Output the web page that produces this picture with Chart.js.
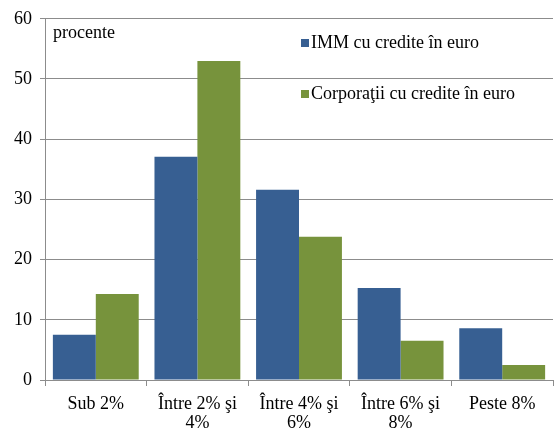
<!DOCTYPE html>
<html>
<head>
<meta charset="utf-8">
<script src="https://cdn.jsdelivr.net/npm/chart.js@4"></script>
<style>
  html, body { margin: 0; padding: 0; background: #fff; }
  #wrap { width: 554px; height: 430px; }
</style>
</head>
<body>
<div id="wrap"><canvas id="chart" width="554" height="430"></canvas></div>
<script>
const categories = ['Sub 2%', ['Între 2% şi', '4%'], ['Între 4% şi', '6%'], ['Între 6% şi', '8%'], 'Peste 8%'];
const immValues = [7.5, 37.1, 31.6, 15.3, 8.6];
const corpValues = [14.3, 53.0, 23.8, 6.5, 2.5];
const seriesNames = ['IMM cu credite în euro', 'Corporaţii cu credite în euro'];
const yTicks = [0, 10, 20, 30, 40, 50, 60];

const FONT = "'Liberation Serif', Tinos, 'Times New Roman', 'DejaVu Serif', serif";
const gridColor = '#8c8c8c';

// legend + "procente" label drawn inside the plot
const overlay = {
    id: 'overlay',
    afterDraw(chart) {
        const ctx = chart.ctx;
        ctx.save();
        ctx.font = '18px ' + FONT;
        ctx.fillStyle = '#000';
        ctx.textBaseline = 'middle';
        ctx.textAlign = 'left';
        ctx.fillText('procente', 53, 33);
        const rows = [43, 94];
        chart.data.datasets.forEach((ds, i) => {
            ctx.fillStyle = ds.backgroundColor;
            ctx.fillRect(301, rows[i] - 4, 8, 8);
            ctx.fillStyle = '#000';
            ctx.fillText(ds.label, 311, rows[i]);
        });
        ctx.restore();
    }
};

new Chart(document.getElementById('chart').getContext('2d'), {
    type: 'bar',
    data: {
        labels: categories,
        datasets: [{
            label: seriesNames[0],
            data: immValues,
            backgroundColor: '#375F92',
            borderWidth: 0
        }, {
            label: seriesNames[1],
            data: corpValues,
            backgroundColor: '#77933C',
            borderWidth: 0
        }]
    },
    options: {
        responsive: false,
        animation: false,
        datasets: { bar: { categoryPercentage: 0.845, barPercentage: 1.0 } },
        layout: { padding: { top: 18, right: 1, left: 0, bottom: 0 } },
        plugins: { legend: { display: false }, tooltip: { enabled: false } },
        scales: {
            x: {
                grid: { drawOnChartArea: false, drawTicks: true, tickLength: 6, color: gridColor, offset: true },
                border: { color: gridColor },
                ticks: { font: { family: FONT, size: 18, lineHeight: 1.1 }, color: '#000', padding: 8, maxRotation: 0, autoSkip: false },
                afterFit(scale) { scale.height = 50; }
            },
            y: {
                min: 0, max: 60,
                afterBuildTicks(scale) { scale.ticks = yTicks.map(v => ({ value: v })); },
                grid: { color: gridColor, tickLength: 5 },
                border: { color: gridColor },
                ticks: { font: { family: FONT, size: 18 }, color: '#000', padding: 8 },
                afterFit(scale) { scale.width = 45; }
            }
        }
    },
    plugins: [overlay]
});
</script>
</body>
</html>
